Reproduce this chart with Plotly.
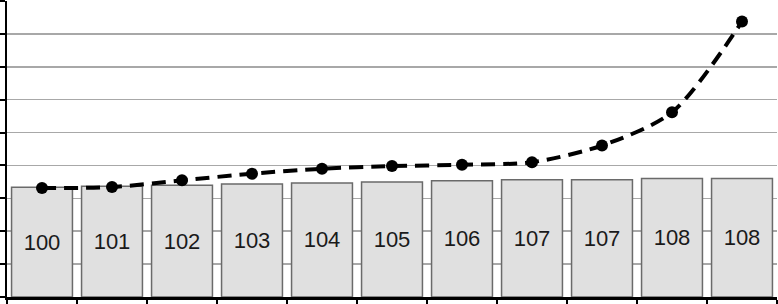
import plotly.graph_objects as go

categories = ["1", "2", "3", "4", "5", "6", "7", "8", "9", "10", "11"]
bar_values = [100, 101, 102, 103, 104, 105, 106, 107, 107, 108, 108]
line_values = [99.4, 100.3, 106.4, 112.5, 117.0, 119.4, 120.6, 123.0, 138.2, 168.5, 251.2]
y_ticks = [0, 30, 60, 90, 120, 150, 180, 210, 240, 270]

fig = go.Figure()
fig.add_trace(go.Bar(
    x=categories, y=bar_values,
    marker=dict(color="#e0e0e0", line=dict(color="#6a6a6a", width=1.5)),
    texttemplate="%{y:.0f}", textposition="inside", insidetextanchor="middle",
    textangle=0,
    textfont=dict(family="Liberation Sans, Arial", size=22, color="#1a1a1a"),
    width=0.87,
))
fig.add_trace(go.Scatter(
    x=categories, y=line_values, mode="lines+markers",
    line=dict(color="black", width=4, dash="14px,8px", shape="spline", smoothing=0.8),
    marker=dict(color="black", size=12),
))

fig.update_layout(
    width=778, height=304,
    margin=dict(l=7, r=1, t=1, b=7),
    paper_bgcolor="white", plot_bgcolor="white",
    showlegend=False,
    uniformtext=dict(minsize=22, mode="show"),
    xaxis=dict(
        type="category", tickson="boundaries", ticks="outside", ticklen=7,
        tickwidth=2, tickcolor="black", showticklabels=False,
        showline=True, linecolor="black", linewidth=2.5, showgrid=False,
        range=[-0.5, 10.5],
    ),
    yaxis=dict(
        range=[0, 270], tickvals=y_ticks, ticks="outside", ticklen=7,
        tickwidth=2, tickcolor="black", showticklabels=False,
        showline=True, linecolor="black", linewidth=2.5,
        showgrid=True, gridcolor="#a8a8a8", gridwidth=1.5, zeroline=False,
    ),
)

fig.write_html(
    "out.html",
    config={"displayModeBar": False, "staticPlot": True},
    post_script="document.body.style.margin='0';document.body.style.overflow='hidden';",
)
